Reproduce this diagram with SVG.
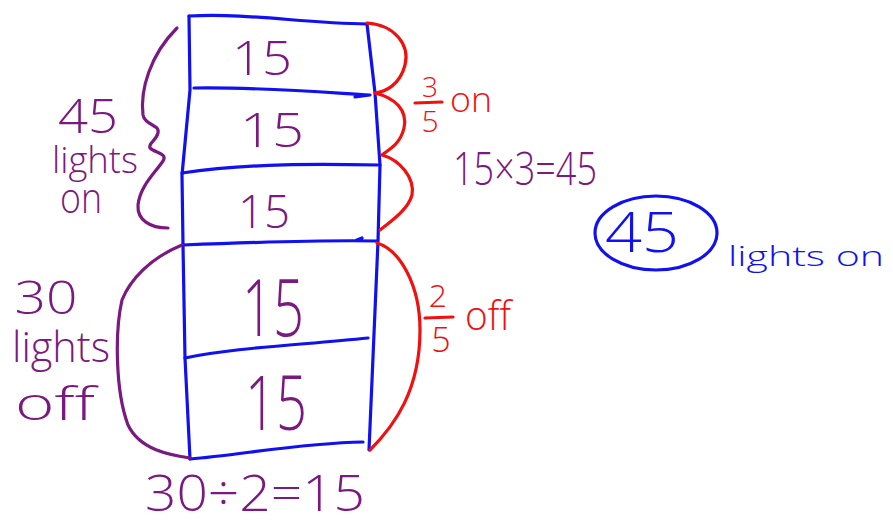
<svg xmlns="http://www.w3.org/2000/svg" width="893" height="525" viewBox="0 0 893 525">
<style>
.ln{fill:none;stroke-width:3.2;stroke-linecap:round;stroke-linejoin:round}
.b{stroke:#1010f0}.p{stroke:#7a1a80}.r{stroke:#f01010}
text{font-family:"Open Sans","Liberation Sans",sans-serif;font-weight:300}
.tp{fill:#7a1a80}.tr{fill:#f01010}.tb{fill:#1010f0}
</style>
<rect width="893" height="525" fill="#ffffff"/>
<g id="bar">
<path class="ln b" d="M189,16 L190,90 L182,175 L183,245 L185,358 L190,459"/>
<path class="ln b" d="M367,24 L375,93 L380,165 L378,241 L369,450"/>
<path class="ln b" d="M189,16 C250,13 300,23 367,24"/>
<path class="ln b" d="M194,88 C260,87 320,92 370,95 L355,97"/>
<path class="ln b" d="M182,173 C250,163 320,164 380,165"/>
<path class="ln b" d="M183,245 C260,242 330,240 377,241 M357,240 L362,238"/>
<path class="ln b" d="M185,358 C230,348 300,345 368,338"/>
<path class="ln b" d="M190,459 C240,455 300,443 363,442"/>
</g>
<g id="cells">
<text class="tp" x="262" y="75" font-size="48" text-anchor="middle" textLength="60" lengthAdjust="spacingAndGlyphs">15</text>
<text class="tp" x="272" y="147" font-size="48" text-anchor="middle" textLength="64" lengthAdjust="spacingAndGlyphs">15</text>
<text class="tp" x="264" y="228" font-size="46" text-anchor="middle" textLength="52" lengthAdjust="spacingAndGlyphs">15</text>
<text class="tp" x="273" y="336" font-size="80" text-anchor="middle" textLength="62" lengthAdjust="spacingAndGlyphs">15</text>
<text class="tp" x="276" y="430" font-size="76" text-anchor="middle" textLength="62" lengthAdjust="spacingAndGlyphs">15</text>
</g>
<g id="on-label">
<path class="ln p" d="M177,28 C150,55 140,90 143,115 C145,126 160,124 158,133 C156,141 148,143 150,148 C155,153 168,153 163,161 C155,173 140,186 138,205 C137,220 150,228 168,228"/>
<text class="tp" x="88" y="133" font-size="48" text-anchor="middle" textLength="60" lengthAdjust="spacingAndGlyphs">45</text>
<text class="tp" x="95" y="173" font-size="36" text-anchor="middle" textLength="86" lengthAdjust="spacingAndGlyphs">lights</text>
<text class="tp" x="81" y="213" font-size="42" text-anchor="middle" textLength="42" lengthAdjust="spacingAndGlyphs">on</text>
</g>
<g id="off-label">
<path class="ln p" d="M182,245 C150,258 130,280 122,300 C115,330 115,390 128,425 C140,450 170,455 190,458"/>
<text class="tp" x="46" y="314" font-size="46" text-anchor="middle" textLength="63" lengthAdjust="spacingAndGlyphs">30</text>
<text class="tp" x="61" y="362" font-size="42" text-anchor="middle" textLength="98" lengthAdjust="spacingAndGlyphs">lights</text>
<text class="tp" x="55" y="420" font-size="46" text-anchor="middle" textLength="80" lengthAdjust="spacingAndGlyphs">off</text>
</g>
<g id="bottom-eq">
<text class="tp" x="255" y="511" font-size="50" text-anchor="middle" textLength="220" lengthAdjust="spacingAndGlyphs">30÷2=15</text>
</g>
<g id="on-fraction">
<path class="ln r" d="M367,23 C395,25 410,45 405,65 C400,85 385,92 375,93 C395,98 408,110 404,128 C400,145 388,150 382,155 C400,160 415,178 412,195 C408,210 390,222 380,230"/>
<text class="tr" x="430" y="97" font-size="28" text-anchor="middle">3</text>
<path class="ln r" d="M415,103 L442,102"/>
<text class="tr" x="430" y="132" font-size="30" text-anchor="middle">5</text>
<text class="tr" x="471" y="112" font-size="34" text-anchor="middle" textLength="42" lengthAdjust="spacingAndGlyphs">on</text>
</g>
<g id="off-fraction">
<path class="ln r" d="M377,243 C400,250 420,285 420,330 C420,390 395,425 370,450"/>
<text class="tr" x="438" y="307" font-size="32" text-anchor="middle">2</text>
<path class="ln r" d="M425,318 L453,317"/>
<text class="tr" x="441" y="352" font-size="34" text-anchor="middle">5</text>
<text class="tr" x="488" y="330" font-size="40" text-anchor="middle" textLength="46" lengthAdjust="spacingAndGlyphs">off</text>
</g>
<g id="mult-eq">
<text class="tp" x="525" y="185" font-size="46" text-anchor="middle" textLength="144" lengthAdjust="spacingAndGlyphs">15×3=45</text>
</g>
<g id="answer">
<ellipse class="ln b" cx="656" cy="233" rx="61" ry="37"/>
<text class="tb" x="642" y="252" font-size="56" text-anchor="middle" textLength="74" lengthAdjust="spacingAndGlyphs">45</text>
<text class="tb" x="806" y="266" font-size="28" text-anchor="middle" textLength="156" lengthAdjust="spacingAndGlyphs">lights on</text>
</g>
</svg>
